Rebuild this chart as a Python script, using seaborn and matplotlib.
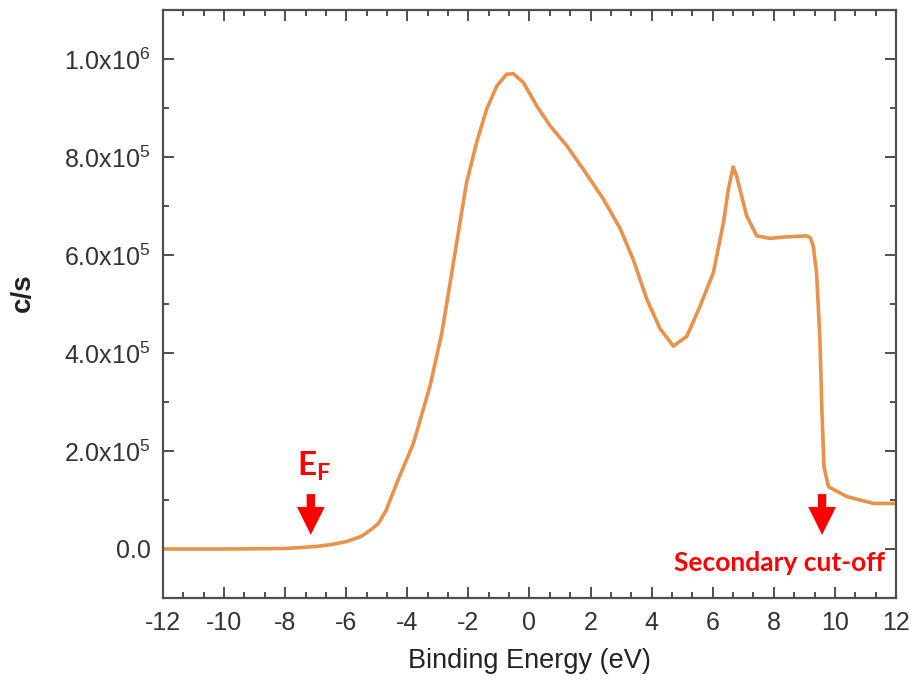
import numpy as np
import pandas as pd
import matplotlib
matplotlib.use("Agg")
import matplotlib.pyplot as plt
from matplotlib.ticker import FixedLocator, FixedFormatter, MultipleLocator
import seaborn as sns

# UPS spectrum: binding energy (eV) vs. count rate (c/s)
energy = [-12.0, -10.0, -8.0, -7.0, -6.5, -6.0, -5.5, -5.2, -4.95, -4.7, -4.35,
          -3.8, -3.26, -2.87, -2.6, -2.33, -2.06, -1.73, -1.4, -1.07, -0.75,
          -0.53, -0.2, 0.24, 0.67, 1.22, 1.76, 2.42, 2.96, 3.4, 3.84, 4.27,
          4.71, 5.15, 5.58, 6.02, 6.35, 6.51, 6.67, 6.78, 6.89, 7.11, 7.44,
          7.87, 8.42, 9.08, 9.2, 9.29, 9.4, 9.51, 9.57, 9.64, 9.79, 10.39,
          11.26, 12.0]
counts = [0, 0, 1e3, 5e3, 9e3, 1.5e4, 2.6e4, 3.9e4, 5.2e4, 7.8e4, 1.34e5,
          2.16e5, 3.32e5, 4.41e5, 5.43e5, 6.46e5, 7.48e5, 8.30e5, 8.98e5,
          9.45e5, 9.69e5, 9.70e5, 9.52e5, 9.04e5, 8.64e5, 8.23e5, 7.75e5,
          7.14e5, 6.55e5, 5.90e5, 5.10e5, 4.50e5, 4.14e5, 4.34e5, 4.95e5,
          5.64e5, 6.66e5, 7.34e5, 7.80e5, 7.61e5, 7.34e5, 6.80e5, 6.39e5,
          6.34e5, 6.37e5, 6.39e5, 6.35e5, 6.18e5, 5.63e5, 4.27e5, 2.91e5,
          1.68e5, 1.27e5, 1.07e5, 9.3e4, 9.3e4]

x_ticks = [-12, -10, -8, -6, -4, -2, 0, 2, 4, 6, 8, 10, 12]
y_ticks = [0, 2e5, 4e5, 6e5, 8e5, 1e6]
y_tick_labels = ["0.0", "2.0x10$^{5}$", "4.0x10$^{5}$", "6.0x10$^{5}$",
                 "8.0x10$^{5}$", "1.0x10$^{6}$"]

fermi_edge = -7.16
cutoff_edge = 9.58

df = pd.DataFrame({"Binding Energy (eV)": energy, "c/s": counts})

sns.set_style("ticks")
plt.rcParams["font.family"] = ["Liberation Sans", "DejaVu Sans"]
plt.rcParams["axes.unicode_minus"] = False
plt.rcParams["mathtext.fontset"] = "custom"
plt.rcParams["mathtext.rm"] = "Liberation Sans"
plt.rcParams["mathtext.bf"] = "Lato:bold"

fig = plt.figure(figsize=(9.12, 6.83), dpi=100)
ax = fig.add_axes([163 / 912, 1 - 598 / 683, (896 - 163) / 912, (598 - 10) / 683])

sns.lineplot(data=df, x="Binding Energy (eV)", y="c/s", ax=ax,
             color="#E8924C", linewidth=2.6, estimator=None, sort=False)

ax.set_xlim(-12, 12)
ax.set_ylim(-1e5, 1.1e6)

ax.xaxis.set_major_locator(FixedLocator(x_ticks))
ax.xaxis.set_minor_locator(MultipleLocator(2 / 3))
ax.yaxis.set_major_locator(FixedLocator(y_ticks))
ax.yaxis.set_major_formatter(FixedFormatter(y_tick_labels))
ax.yaxis.set_minor_locator(MultipleLocator(1e5))

spine_col = "#505050"
for s in ax.spines.values():
    s.set_visible(True)
    s.set_color(spine_col)
    s.set_linewidth(1.6)

ax.tick_params(which="both", direction="in", top=True, right=True,
               color=spine_col, width=1.4)
ax.tick_params(which="major", length=8, labelsize=18, labelcolor="#333333", pad=9)
ax.tick_params(which="minor", length=4)

ax.set_xlabel("Binding Energy (eV)", fontsize=19.5, color="#222222", labelpad=10)
ax.set_ylabel("c/s", fontsize=20, fontweight="bold", color="#222222")
ax.yaxis.set_label_coords(-0.174, 0.52)

red = "#FF0000"
arrow_style = "simple,head_width=1.0,head_length=1.0,tail_width=0.3"
for xe in (fermi_edge, cutoff_edge):
    ax.annotate("", xy=(xe, 2.9e4), xytext=(xe, 1.12e5),
                arrowprops=dict(arrowstyle=arrow_style, color=red, lw=0,
                                shrinkA=0, shrinkB=0, mutation_scale=20))

ax.text(fermi_edge + 0.12, 1.68e5, r"$\mathbf{E_F}$", color=red, fontsize=24,
        ha="center", va="center")
ax.text(8.2, -2.9e4, "Secondary cut-off", color=red, fontsize=19,
        fontweight="bold", family=["Lato", "DejaVu Sans"], ha="center", va="center")

fig.savefig("out.png", dpi=100)
